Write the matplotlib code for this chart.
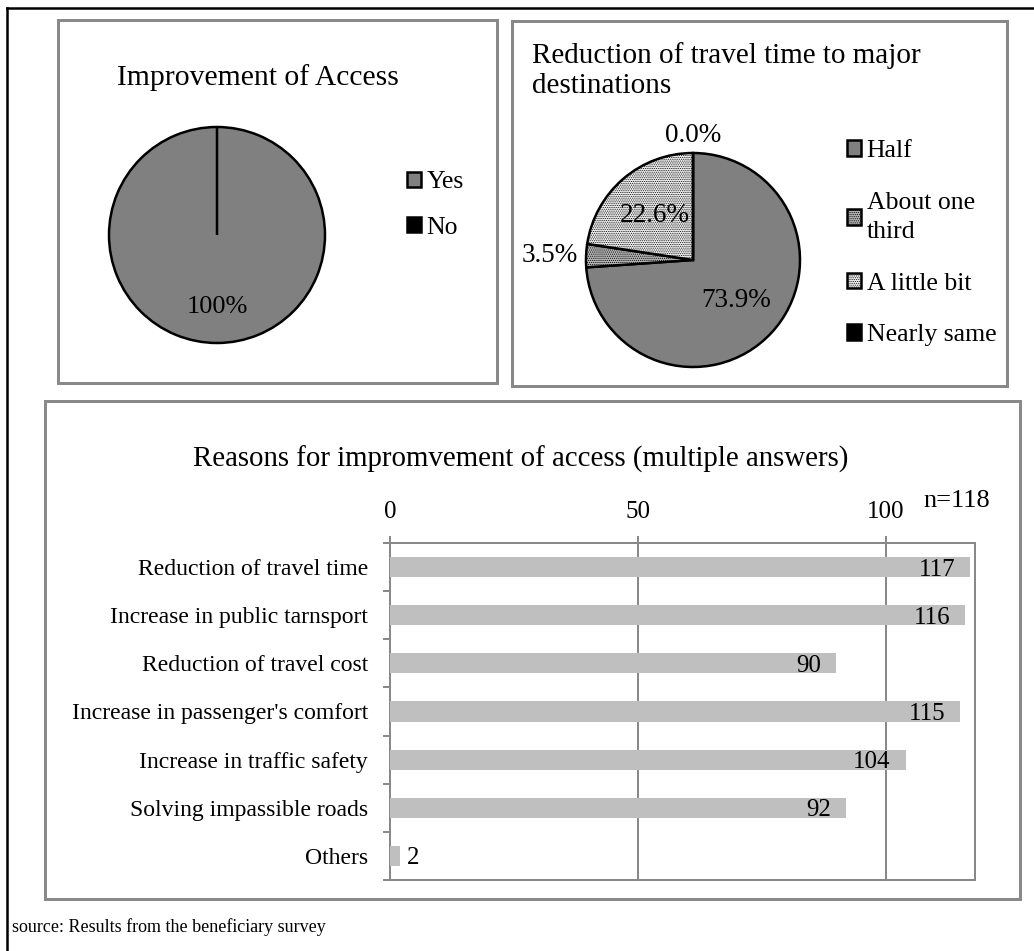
import matplotlib
matplotlib.use('Agg')
import matplotlib.pyplot as plt
from matplotlib.patches import Rectangle
from matplotlib.lines import Line2D
import numpy as np

plt.rcParams['font.family'] = ['Liberation Serif', 'DejaVu Serif']
plt.rcParams['hatch.linewidth'] = 0.5

# ---------------- data ----------------
access_labels = ['Yes', 'No']
access_values = [100, 0]

reduction_labels = ['Half', 'About one\nthird', 'A little bit', 'Nearly same']
reduction_values = [73.9, 3.5, 22.6, 0.0]

reason_labels = ['Reduction of travel time', 'Increase in public tarnsport',
                 'Reduction of travel cost', "Increase in passenger's comfort",
                 'Increase in traffic safety', 'Solving impassible roads', 'Others']
reason_counts = [117, 116, 90, 115, 104, 92, 2]
n_total = 118
x_ticks = [0, 50, 100]

# ---------------- layout helpers ----------------
W, H, DPI = 1034, 951, 100
fig = plt.figure(figsize=(W / DPI, H / DPI), dpi=DPI)


def fx(p):
    return p / W


def fy(p):
    return 1 - p / H


def pt(p):
    return p * 72 / DPI


GRAY = '#898989'

# outer frame (top and left)
fig.add_artist(Line2D([fx(7), 1], [fy(8), fy(8)], color='black', lw=pt(2.5),
                      transform=fig.transFigure))
fig.add_artist(Line2D([fx(7), fx(7)], [fy(8), 0], color='black', lw=pt(2.5),
                      transform=fig.transFigure))


def box(x0, y0, x1, y1):
    fig.add_artist(Rectangle((fx(x0), fy(y1)), fx(x1) - fx(x0), fy(y0) - fy(y1),
                             fill=False, edgecolor=GRAY, lw=pt(3),
                             transform=fig.transFigure))


box(58, 20, 497, 383)
box(512, 21, 1007, 386)
box(45, 401, 1020, 899)


def pie_axes(cx, cy, r):
    s = 1.25 * r
    return fig.add_axes([fx(cx - s), fy(cy + s), 2 * s / W, 2 * s / H])


# ---------------- pie 1 ----------------
ax1 = pie_axes(217, 235, 108)
w1, _, a1 = ax1.pie(access_values, colors=['#808080', 'black'], startangle=90,
                    counterclock=False,
                    wedgeprops=dict(edgecolor='black', linewidth=pt(2.5)),
                    autopct=lambda p: f'{p:.0f}%' if p > 0 else '',
                    pctdistance=0.67, textprops=dict(fontsize=19))
ax1.set_xlim(-1.25, 1.25)
ax1.set_ylim(-1.25, 1.25)
ax1.legend(w1, access_labels, loc='center left',
           bbox_to_anchor=(fx(407), fy(205)), bbox_transform=fig.transFigure,
           frameon=False, fontsize=18.5, handlelength=0.56, handleheight=0.56,
           handletextpad=0.2, labelspacing=0.9, borderpad=0, borderaxespad=0)
fig.text(fx(258), fy(85), 'Improvement of Access', ha='center', va='baseline',
         fontsize=21.3)

# ---------------- pie 2 ----------------
ax2 = pie_axes(693, 260, 107)
colors2 = ['#808080', '#b4b4b4', '#f3f3f3', 'black']
w2, _, a2 = ax2.pie(reduction_values, colors=colors2, startangle=90,
                    counterclock=False,
                    wedgeprops=dict(edgecolor='black', linewidth=pt(2.5)),
                    autopct=lambda p: f'{p:.1f}%', pctdistance=0.55,
                    textprops=dict(fontsize=19.5))
hatch_specs = {1: ('........', '#7a7a7a'), 2: ('.........', '#d6d6d6')}
for i, (h, hc) in hatch_specs.items():
    w2[i].set_hatch(h)
    if hasattr(w2[i], 'set_hatchcolor'):
        w2[i].set_hatchcolor(hc)
# move labels of tiny slices outside the pie
for w, t, v in zip(w2, a2, reduction_values):
    if v < 5:
        ang = np.deg2rad((w.theta1 + w.theta2) / 2)
        c, s = np.cos(ang), np.sin(ang)
        if abs(c) > abs(s):
            t.set_position((1.08 * c, 1.08 * s))
            t.set_ha('right' if c < 0 else 'left')
            t.set_va('center')
        else:
            t.set_position((1.10 * c, 1.10 * s))
            t.set_ha('center')
            t.set_va('baseline' if s > 0 else 'top')
ax2.set_xlim(-1.25, 1.25)
ax2.set_ylim(-1.25, 1.25)
leg2 = ax2.legend(w2, reduction_labels, loc='upper left',
                  bbox_to_anchor=(fx(847), fy(140)), bbox_transform=fig.transFigure,
                  frameon=False, fontsize=18.5, handlelength=0.56, handleheight=0.56,
                  handletextpad=0.2, labelspacing=1.15, borderpad=0, borderaxespad=0)
for t in leg2.get_texts():
    t.set_linespacing(1.45)
fig.text(fx(532), fy(42), 'Reduction of travel time to major\ndestinations',
         ha='left', va='top', fontsize=21, linespacing=1.2)

# ---------------- bar chart ----------------
ax3 = fig.add_axes([fx(390), fy(880), (975 - 390) / W, (880 - 543) / H])
y = np.arange(len(reason_labels))
ax3.barh(y, reason_counts, height=0.42, color='#bfbfbf', zorder=3)
ax3.set_xlim(0, n_total)
ax3.set_ylim(len(y) - 0.5, -0.5)
ax3.xaxis.tick_top()
ax3.set_xticks(x_ticks)
ax3.tick_params(axis='x', which='major', length=pt(7), width=pt(2), color=GRAY,
                pad=9, labelsize=18)
ax3.set_yticks(y, reason_labels)
ax3.set_yticks(np.arange(-0.5, len(y), 1.0), minor=True)
ax3.tick_params(axis='y', which='major', length=0, pad=16, labelsize=17)
ax3.tick_params(axis='y', which='minor', length=pt(7), width=pt(2), color=GRAY)
ax3.grid(axis='x', color=GRAY, lw=pt(2), zorder=0)
ax3.set_axisbelow(True)
for sp in ax3.spines.values():
    sp.set_color(GRAY)
    sp.set_linewidth(pt(2))
for yi, v in zip(y, reason_counts):
    if v >= 10:
        ax3.annotate(str(v), (v, yi), xytext=(-15, 0), textcoords='offset pixels',
                     ha='right', va='center_baseline', fontsize=18, zorder=4)
    else:
        ax3.annotate(str(v), (v, yi), xytext=(7, 0), textcoords='offset pixels',
                     ha='left', va='center_baseline', fontsize=18, zorder=4)

fig.text(fx(521), fy(467), 'Reasons for impromvement of access (multiple answers)',
         ha='center', va='baseline', fontsize=20.8)
fig.text(fx(923), fy(507), f'n={n_total}', ha='left', va='baseline', fontsize=19)
fig.text(fx(12), fy(932), 'source: Results from the beneficiary survey',
         ha='left', va='baseline', fontsize=13)

fig.savefig('out.png', dpi=DPI)
